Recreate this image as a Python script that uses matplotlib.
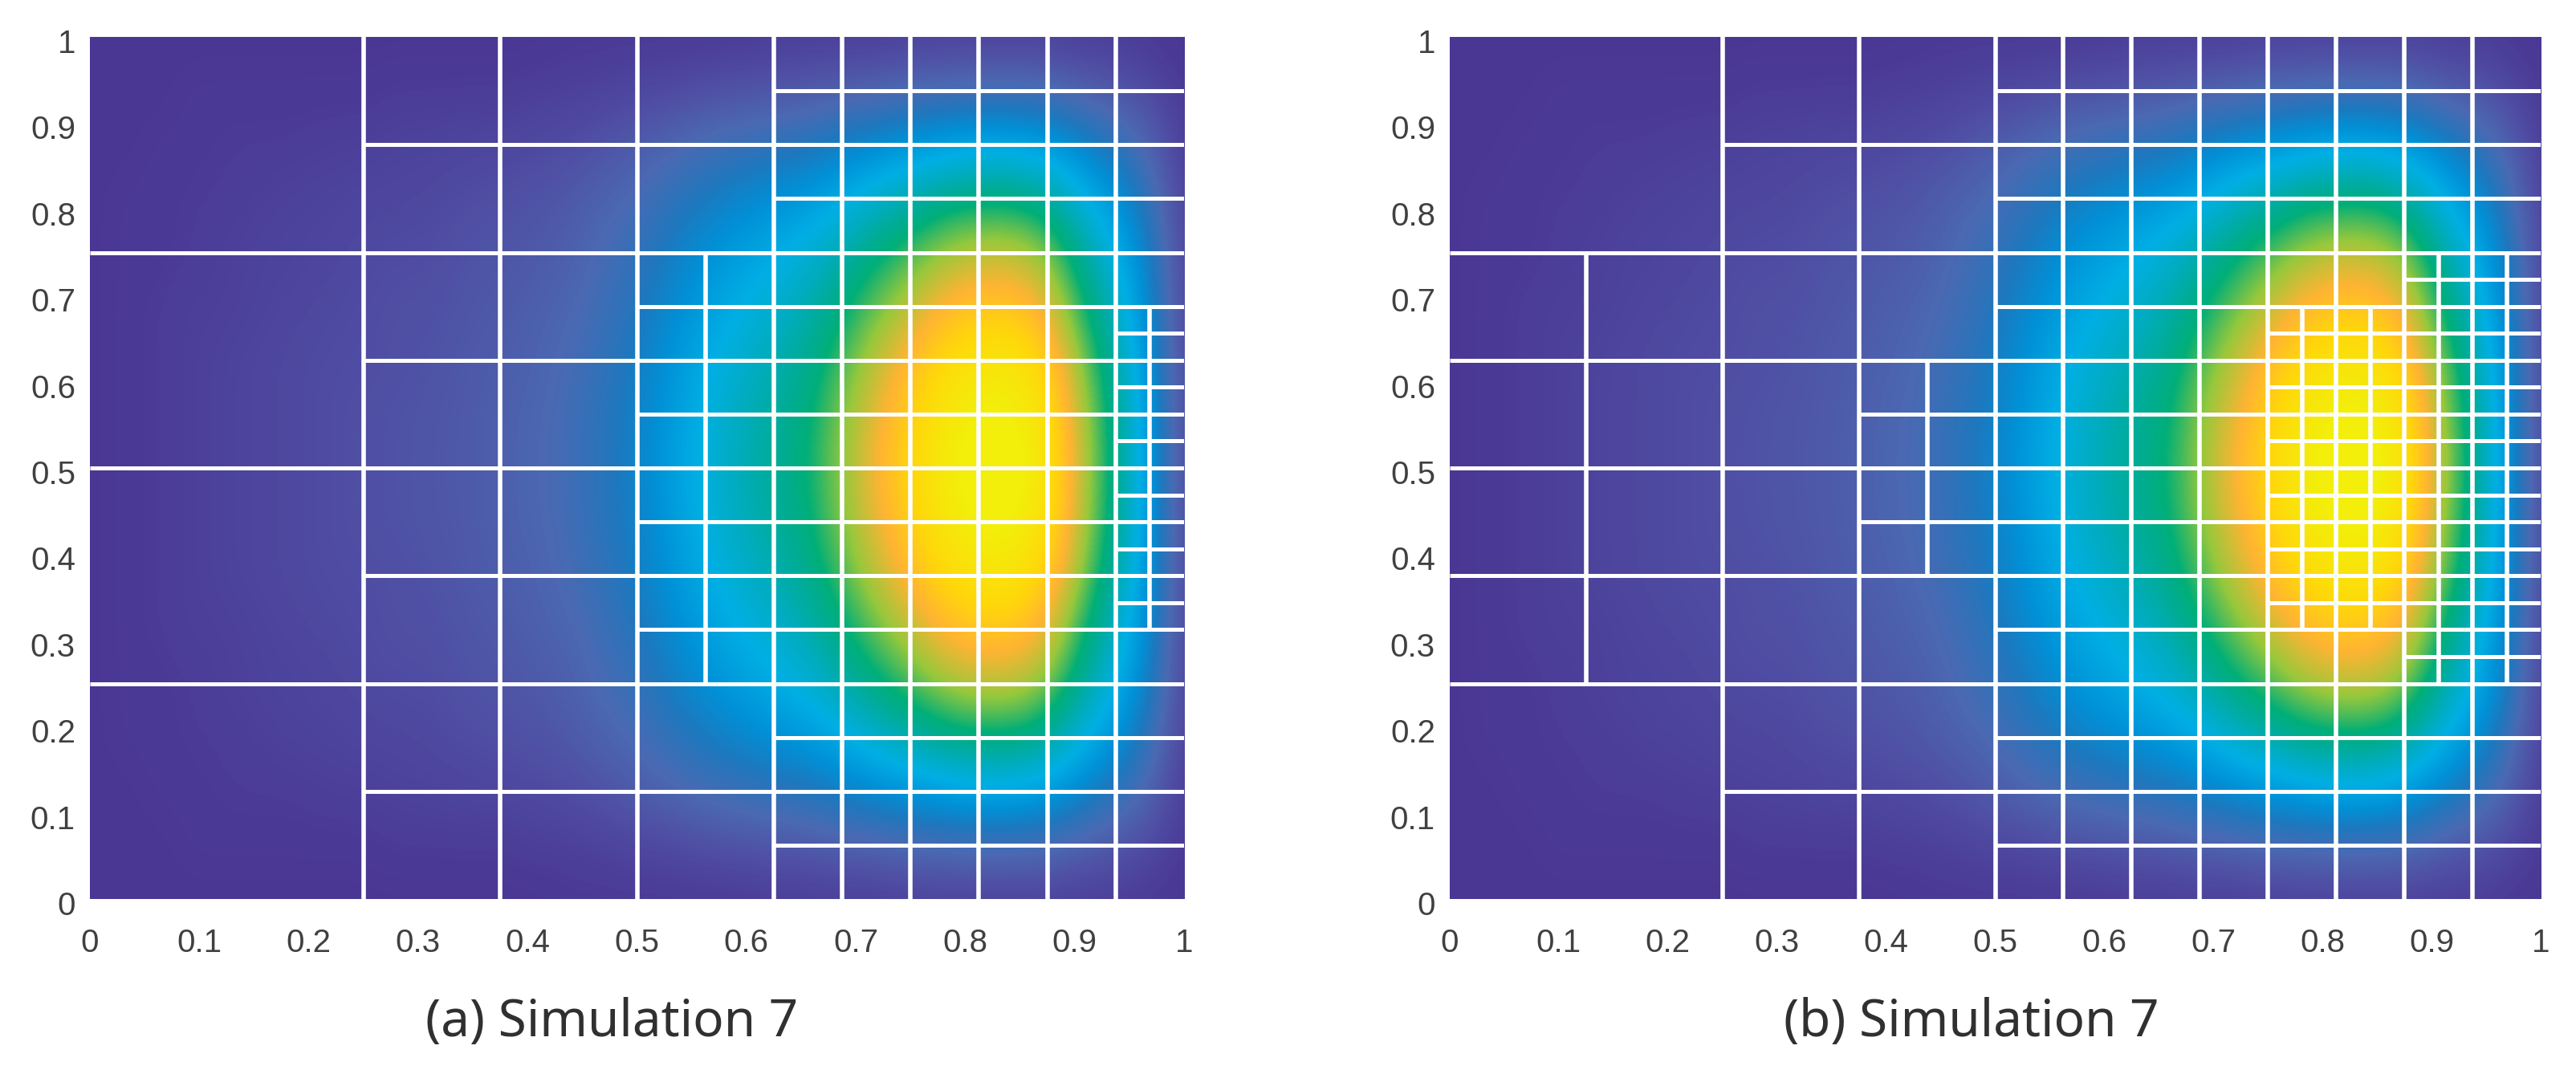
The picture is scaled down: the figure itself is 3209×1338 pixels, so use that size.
# -*- coding: utf-8 -*-
import numpy as np
import matplotlib
matplotlib.use("Agg")
import matplotlib.pyplot as plt
from matplotlib.colors import LinearSegmentedColormap
from matplotlib.transforms import ScaledTranslation

W, H = 3209, 1338

# field, y = 0 ... 0.5 in steps of 1/16, x = 0 ... 1 in steps of 1/32
field_lower = np.array([
    [0,0,0,0,0,0,0,0,0,0,0,0,0,0,.01,.01,.01,.01,.01,.01,.02,.02,.02,.02,.03,.03,.03,.03,.03,.02,.02,.01,0],
    [0,0,0,.01,.01,.01,.01,.01,.01,.02,.02,.02,.02,.03,.03,.04,.05,.06,.08,.09,.10,.11,.13,.14,.16,.17,.18,.18,.17,.13,.10,.06,.01],
    [0,0,.01,.01,.02,.02,.02,.03,.03,.04,.04,.05,.05,.06,.07,.09,.12,.15,.18,.20,.22,.24,.28,.32,.35,.38,.40,.40,.37,.30,.23,.14,.02],
    [0,.01,.01,.02,.02,.03,.04,.04,.05,.05,.06,.07,.08,.09,.11,.14,.17,.22,.26,.30,.33,.36,.41,.47,.52,.57,.59,.59,.55,.44,.34,.21,.03],
    [0,.01,.01,.02,.03,.04,.04,.05,.06,.07,.07,.09,.10,.11,.13,.17,.21,.27,.33,.37,.41,.45,.52,.59,.65,.71,.74,.74,.69,.55,.42,.27,.04],
    [0,.01,.02,.03,.03,.04,.05,.06,.07,.08,.08,.10,.11,.13,.15,.19,.24,.31,.37,.42,.46,.51,.59,.67,.74,.81,.84,.84,.78,.62,.48,.30,.04],
    [0,.01,.02,.03,.04,.05,.06,.07,.07,.08,.09,.11,.12,.14,.17,.21,.27,.34,.41,.46,.51,.56,.65,.74,.82,.89,.93,.93,.86,.69,.53,.33,.05],
    [0,.01,.02,.03,.04,.05,.06,.07,.08,.09,.10,.11,.13,.15,.18,.23,.28,.36,.43,.49,.54,.59,.69,.78,.86,.94,.98,.98,.91,.73,.56,.35,.05],
    [0,.01,.02,.03,.04,.05,.06,.07,.08,.09,.10,.115,.13,.155,.18,.23,.29,.37,.44,.50,.55,.60,.70,.80,.88,.96,1,1,.93,.74,.57,.36,.05],
])

color_stops = [
    (0.00, "#4A3794"), (0.08, "#5050A5"), (0.16, "#4B69B2"), (0.25, "#1E78BE"),
    (0.33, "#0091D7"), (0.42, "#00AFE4"), (0.49, "#00ACBE"), (0.55, "#00AC96"), (0.60, "#00AF78"),
    (0.70, "#96C83C"), (0.80, "#FFB432"), (0.88, "#FFD70A"), (0.97, "#F3EE0A"), (1.00, "#F3EE0A"),
]

ticks = [0, .1, .2, .3, .4, .5, .6, .7, .8, .9, 1]
tick_labels = ["0", "0.1", "0.2", "0.3", "0.4", "0.5", "0.6", "0.7", "0.8", "0.9", "1"]

# mesh lines: position, start, end
left_v = [(.25,0,1), (.375,0,1), (.5,0,1), (.5625,.25,.75), (.625,0,1), (.6875,0,1),
          (.75,0,1), (.8125,0,1), (.875,0,1), (.9375,0,1), (.96875,.3125,.6875)]
left_h = [(.25,0,1), (.5,0,1), (.75,0,1), (.125,.25,1), (.875,.25,1), (.375,.25,1), (.625,.25,1),
          (.0625,.625,1), (.1875,.625,1), (.8125,.625,1), (.9375,.625,1),
          (.3125,.5,1), (.4375,.5,1), (.5625,.5,1), (.6875,.5,1),
          (.34375,.9375,1), (.40625,.9375,1), (.46875,.9375,1),
          (.53125,.9375,1), (.59375,.9375,1), (.65625,.9375,1)]

right_v = [(.125,.25,.75), (.25,0,1), (.375,0,1), (.4375,.375,.625), (.5,0,1), (.5625,0,1),
           (.625,0,1), (.6875,0,1), (.75,0,1), (.8125,0,1), (.875,0,1), (.9375,0,1),
           (.78125,.3125,.6875), (.84375,.3125,.6875), (.90625,.25,.75), (.96875,.25,.75)]
right_h = [(.25,0,1), (.5,0,1), (.75,0,1), (.375,0,1), (.625,0,1), (.125,.25,1), (.875,.25,1),
           (.4375,.375,1), (.5625,.375,1),
           (.0625,.5,1), (.1875,.5,1), (.3125,.5,1), (.6875,.5,1), (.8125,.5,1), (.9375,.5,1),
           (.34375,.75,1), (.40625,.75,1), (.46875,.75,1), (.53125,.75,1), (.59375,.75,1), (.65625,.75,1),
           (.28125,.875,1), (.71875,.875,1)]

captions = ["(a) Simulation 7", "(b) Simulation 7"]

field = np.vstack([field_lower, field_lower[-2::-1]])
cmap = LinearSegmentedColormap.from_list("sim", color_stops)
dx = 0.5 / (field.shape[1] - 1)
dy = 0.5 / (field.shape[0] - 1)

fig = plt.figure(figsize=(W / 100, H / 100), dpi=100)


def panel(x0, x1, vlines, hlines, caption, cap_x):
    ax = fig.add_axes([x0 / W, 1 - 1120 / H, (x1 - x0) / W, 1074 / H])
    ax.imshow(field, origin="lower", cmap=cmap, vmin=0, vmax=1, aspect="auto",
              extent=[-dx, 1 + dx, -dy, 1 + dy], interpolation="bicubic")
    ax.set_xlim(0, 1)
    ax.set_ylim(0, 1)
    for x, a, b in vlines:
        ax.plot([x, x], [a, b], color="white", lw=4.0, solid_capstyle="butt")
    for y, a, b in hlines:
        ax.plot([a, b], [y, y], color="white", lw=3.6, solid_capstyle="butt")
    for s in ax.spines.values():
        s.set_visible(False)
    ax.set_xticks(ticks, tick_labels)
    ax.set_yticks(ticks, tick_labels)
    ax.tick_params(length=0, labelsize=29, labelcolor="#404040", labelfontfamily="Liberation Sans")
    ax.tick_params(axis="x", pad=26)
    ax.tick_params(axis="y", pad=13)
    shift = ScaledTranslation(0, -5 / 100, fig.dpi_scale_trans)
    for lab in ax.get_yticklabels():
        lab.set_transform(lab.get_transform() + shift)
    fig.text(cap_x / W, 1 - 1274 / H, caption, ha="center", va="center", fontsize=46,
             family="Noto Sans", weight="light", color="#303030")


panel(112, 1475, left_v, left_h, captions[0], 762)
panel(1806, 3165, right_v, right_h, captions[1], 2456)

fig.savefig("out.png", dpi=100)
